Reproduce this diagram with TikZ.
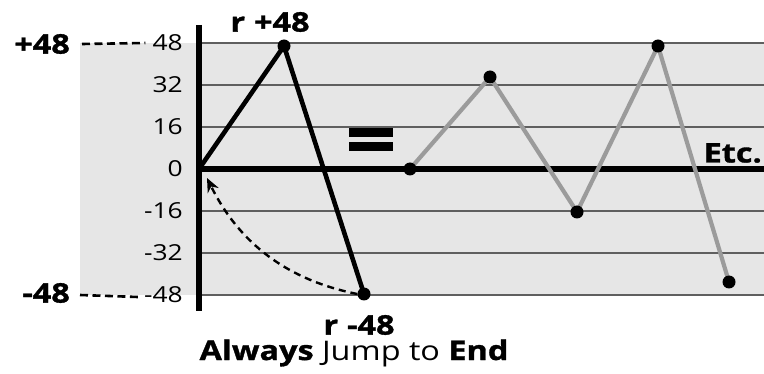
\documentclass[tikz,border=0pt]{standalone}
\usepackage{fontspec}
\setmainfont[FakeStretch=1.2,BoldFeatures={FakeBold=1.2}]{Open Sans}
\usetikzlibrary{positioning,arrows.meta}
\definecolor{PanelGray}{RGB}{230,230,230}
\definecolor{RuleGray}{RGB}{95,95,95}
\definecolor{EchoGray}{RGB}{155,155,155}
\tikzset{
  dot/.style={circle,fill=black,inner sep=0pt,minimum size=13pt},
  tick/.style={anchor=east,inner sep=0pt,font=\fontsize{22}{22}\selectfont},
  biglabel/.style={inner sep=0pt,font=\fontsize{27}{27}\selectfont\bfseries},
  rule/.style={draw=RuleGray,line width=1.4pt},
  axis/.style={draw=black,line width=6pt},
  jump/.style={draw=black,line width=4.6pt,line join=round},
  echo/.style={draw=EchoGray,line width=4.2pt,line join=round},
  leader/.style={draw=black,line width=2.6pt,dash pattern=on 8pt off 4.5pt},
}

\begin{document}
\begin{tikzpicture}[x=1pt,y=-1pt]
\useasboundingbox (0,0) rectangle (764,374);
% shaded value range
\fill[PanelGray] (80,43) rectangle (764,295);
\foreach \y in {43,85,127,211,253,295}
  \draw[rule] (199,\y) -- (764,\y);
% value ticks
\foreach \v/\y [count=\i] in {48/43,32/85,16/127,0/169,-16/211,-32/253,-48/295}
  \node[tick] (t\i) at (183,\y) {\v};
\coordinate (top) at (199,25);
\coordinate (bot) at (199,311);
\coordinate (o) at (199,169);
\coordinate (xend) at (764,169);
\draw[axis] (o) -- (xend);
\draw[axis] (top) -- (bot);
% first pass
\coordinate (a) at (284,46);
\coordinate (b) at (364,294);
\draw[jump] (o) -- (a) -- (b);
% repeated pattern
\coordinate (c0) at (410,169);
\coordinate (c1) at (490,77);
\coordinate (c2) at (577,212);
\coordinate (c3) at (658,46);
\coordinate (c4) at (729,282);
\draw[echo] (c0) -- (c1) -- (c2) -- (c3) -- (c4);
\foreach \n in {a,b,c0,c1,c2,c3,c4}
  \node[dot] (d\n) at (\n) {};
% jump back
\coordinate (tip) at (207,178);
\draw[draw=black,line width=2.4pt,dash pattern=on 7pt off 5pt,-{Stealth[length=14pt,width=12pt]}]
  (db.west) .. controls (287,280) and (239,243) .. (tip);
% outer labels
\node[biglabel,anchor=east] (pmax) at (70,44) {+48};
\node[biglabel,anchor=east] (pmin) at (70,293) {-48};
\draw[leader] ([xshift=12pt]pmax.east) -- ([xshift=-7pt]t1.west);
\draw[leader] ([xshift=10pt,yshift=-2pt]pmin.east) -- ([xshift=-6pt,yshift=-2pt]t7.west);
\node[biglabel] (rup) at (270,22) {r\hspace{9pt}+48};
\node[biglabel] (rdn) at (359,325) {r\hspace{9pt}-48};
\node[inner sep=0pt,font=\fontsize{27}{27}\selectfont] (cap) at (354,353)
  {\textbf{Always} Jump to \textbf{End}};
\node[inner sep=0pt,font=\fontsize{74}{74}\selectfont\bfseries] (eq) at (371,147) {=};
\node[biglabel,anchor=east] (etc) at (762,153) {Etc.};
\end{tikzpicture}
\end{document}
